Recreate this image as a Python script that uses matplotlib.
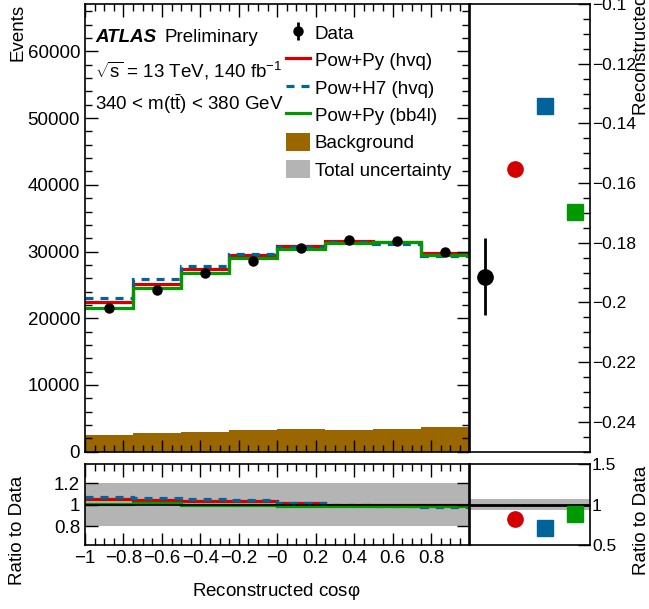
import numpy as np
import matplotlib
matplotlib.use('Agg')
import matplotlib.pyplot as plt
from matplotlib.patches import Patch
from matplotlib.lines import Line2D
from matplotlib.ticker import MultipleLocator, FuncFormatter

plt.rcParams['font.family'] = ['Liberation Sans', 'DejaVu Sans']
plt.rcParams['mathtext.fontset'] = 'custom'
plt.rcParams['mathtext.rm'] = 'Liberation Sans'
plt.rcParams['mathtext.it'] = 'Liberation Sans:italic'

# binning of reconstructed cos(phi)
edges = [-1.0, -0.75, -0.5, -0.25, 0.0, 0.25, 0.5, 0.75, 1.0]

# events per bin
data = [21500, 24300, 26750, 28600, 30600, 31750, 31600, 29950]
pow_py_hvq = [22400, 25200, 27450, 29450, 30800, 31550, 31400, 29750]
pow_h7_hvq = [23000, 25850, 27850, 29650, 30750, 31450, 31200, 29350]
pow_py_bb4l = [21550, 24550, 26800, 29100, 30450, 31350, 31400, 29500]
background = [2500, 2850, 3000, 3250, 3350, 3250, 3350, 3700]

# ratio to data
ratio_py_hvq = [1.049, 1.043, 1.031, 1.037, 1.015, 1.000, 0.994, 0.994]
ratio_h7_hvq = [1.071, 1.065, 1.049, 1.040, 1.013, 0.998, 0.985, 0.975]
ratio_py_bb4l = [1.006, 1.015, 0.997, 0.997, 0.990, 0.985, 0.987, 0.985]
ratio_unc = [0.20, 0.20, 0.20, 0.20, 0.20, 0.20, 0.20, 0.20]

# extracted coefficient D
d_data = -0.1913
d_data_err = 0.013
d_py_hvq = -0.1552
d_h7_hvq = -0.1341
d_py_bb4l = -0.1696
d_ratio_py_hvq = 0.825
d_ratio_h7_hvq = 0.716
d_ratio_py_bb4l = 0.888
d_ratio_unc = 0.07

RED = '#d40000'
BLUE = '#00649a'
GREEN = '#009a00'
BROWN = '#9a6600'
GREY = '#b4b4b4'
FS = 13.5

W, H = 649, 609
fig = plt.figure(figsize=(W / 100, H / 100), dpi=100)


def box(l, t, r, b):
    return [l / W, 1 - b / H, (r - l) / W, (b - t) / H]


def fmt(v, pos):
    s = f'{v:g}'
    return s.replace('-', '\u2212')


ax = fig.add_axes(box(85, 4, 469.5, 451.7))
axd = fig.add_axes(box(469.5, 4, 590, 451.7))
axr = fig.add_axes(box(85, 464.3, 469.5, 545))
axdr = fig.add_axes(box(469.5, 464.3, 590, 545))

centers = 0.5 * (np.array(edges[1:]) + np.array(edges[:-1]))
lw = 2.3
dash = (0, (2.5, 2.2))

# main distribution
ax.stairs(background, edges, fill=True, color=BROWN, lw=0)
ax.stairs(pow_py_hvq, edges, color=RED, lw=lw, baseline=None)
ax.stairs(pow_h7_hvq, edges, color=BLUE, lw=lw, ls=dash, baseline=None)
ax.stairs(pow_py_bb4l, edges, color=GREEN, lw=lw, baseline=None)
hdata = ax.errorbar(centers, data, yerr=np.sqrt(data), fmt='o', color='black',
                    ms=6.5, lw=1.5)
ax.set_xlim(-1, 1)
ax.set_ylim(0, 67100)
ax.yaxis.set_major_locator(MultipleLocator(10000))
ax.yaxis.set_minor_locator(MultipleLocator(2000))
ax.xaxis.set_major_locator(MultipleLocator(0.2))
ax.xaxis.set_minor_locator(MultipleLocator(0.05))
ax.tick_params(labelbottom=False)

leg_data = ax.errorbar([], [], yerr=[], fmt='o', color='black', ms=6.5, lw=2)
handles = [
    leg_data,
    Line2D([], [], color=RED, lw=lw),
    Line2D([], [], color=BLUE, lw=lw, ls=dash),
    Line2D([], [], color=GREEN, lw=lw),
    Patch(facecolor=BROWN, lw=0),
    Patch(facecolor=GREY, lw=0),
]
labels = ['Data', 'Pow+Py (hvq)', 'Pow+H7 (hvq)', 'Pow+Py (bb4l)',
          'Background', 'Total uncertainty']
leg = ax.legend(handles, labels, loc='upper left', bbox_to_anchor=(0.522, 0.957),
                frameon=False, fontsize=FS, handlelength=1.3, handleheight=1.1,
                handletextpad=0.25, labelspacing=0.43, borderpad=0, borderaxespad=0)

ax.text(0.027, 0.925, 'ATLAS', transform=ax.transAxes, fontsize=FS,
        fontweight='bold', fontstyle='italic', va='center')
ax.text(0.208, 0.925, 'Preliminary', transform=ax.transAxes, fontsize=FS, va='center')
ax.text(0.027, 0.85, r'$\sqrt{\mathrm{s}}$ = 13 TeV, 140 fb$^{-1}$',
        transform=ax.transAxes, fontsize=FS, va='center')
ax.text(0.027, 0.777, r'340 < m(t$\bar{\mathrm{t}}$) < 380 GeV',
        transform=ax.transAxes, fontsize=FS, va='center')

# coefficient panel
axd.errorbar([0.5], [d_data], yerr=[d_data_err], fmt='o', color='black', ms=11, lw=2)
axd.plot([1.5], [d_py_hvq], 'o', color=RED, ms=11)
axd.plot([2.5], [d_h7_hvq], 's', color=BLUE, ms=11.5)
axd.plot([3.5], [d_py_bb4l], 's', color=GREEN, ms=11.5)
axd.set_xlim(0, 4)
axd.set_ylim(-0.25, -0.1)
axd.yaxis.set_major_locator(MultipleLocator(0.02))
axd.yaxis.set_minor_locator(MultipleLocator(0.005))
axd.yaxis.set_major_formatter(FuncFormatter(fmt))
axd.yaxis.tick_right()
axd.set_xticks([])
axd.tick_params(axis='y', which='both', left=False, right=True)

# ratio panel
unc = np.array(ratio_unc)
axr.stairs(1 + unc, edges, baseline=1 - unc, fill=True, color=GREY, lw=0)
axr.axhline(1, color='black', lw=1.2)
axr.stairs(ratio_py_hvq, edges, color=RED, lw=lw, baseline=None)
axr.stairs(ratio_h7_hvq, edges, color=BLUE, lw=lw, ls=dash, baseline=None)
axr.stairs(ratio_py_bb4l, edges, color=GREEN, lw=lw, baseline=None)
axr.set_xlim(-1, 1)
axr.set_ylim(0.625, 1.375)
axr.set_yticks([0.8, 1.0, 1.2])
axr.yaxis.set_major_formatter(FuncFormatter(fmt))
axr.xaxis.set_minor_locator(MultipleLocator(0.05))
axr.set_xticks(np.round(np.arange(-1, 0.81, 0.2), 1))
axr.xaxis.set_major_formatter(FuncFormatter(fmt))

axdr.axhspan(1 - d_ratio_unc, 1 + d_ratio_unc, color=GREY, lw=0)
axdr.axhline(1, color='black', lw=2)
axdr.plot([1.5], [d_ratio_py_hvq], 'o', color=RED, ms=11)
axdr.plot([2.5], [d_ratio_h7_hvq], 's', color=BLUE, ms=11.5)
axdr.plot([3.5], [d_ratio_py_bb4l], 's', color=GREEN, ms=11.5)
axdr.set_xlim(0, 4)
axdr.set_ylim(0.5, 1.5)
axdr.set_yticks([0.5, 1.0, 1.5])
axdr.yaxis.set_major_formatter(FuncFormatter(fmt))
axdr.yaxis.tick_right()
axdr.set_xticks([])
axdr.tick_params(axis='y', which='both', left=False, right=True)

for a in (ax, axr):
    a.tick_params(which='both', direction='in', top=True, right=True, labelsize=FS)
    a.tick_params(which='major', length=9, width=1)
    a.tick_params(which='minor', length=5, width=1)
for a in (axd, axdr):
    a.tick_params(which='both', direction='in', labelsize=12.5, pad=1.5)
    a.tick_params(which='major', length=9, width=1)
    a.tick_params(which='minor', length=5, width=1)
for a in (ax, axd, axr, axdr):
    for s in a.spines.values():
        s.set_linewidth(1.2)

fig.text(18 / W, 1 - 4 / H, 'Events', rotation=90, ha='center', va='top', fontsize=FS)
fig.text(18 / W, 1 - 476 / H, 'Ratio to Data', rotation=90, ha='center', va='top', fontsize=FS)
fig.text(642 / W, 1 - 466 / H, 'Ratio to Data', rotation=90, ha='center', va='top', fontsize=FS)
fig.text(642 / W, 1 - 115 / H, 'Reconstructed D', rotation=90, ha='center', va='bottom', fontsize=FS)
fig.text(276 / W, 1 - 592 / H, r'Reconstructed cos$\mathrm{\varphi}$', ha='center', va='center', fontsize=FS)

fig.savefig('out.png', dpi=100)
